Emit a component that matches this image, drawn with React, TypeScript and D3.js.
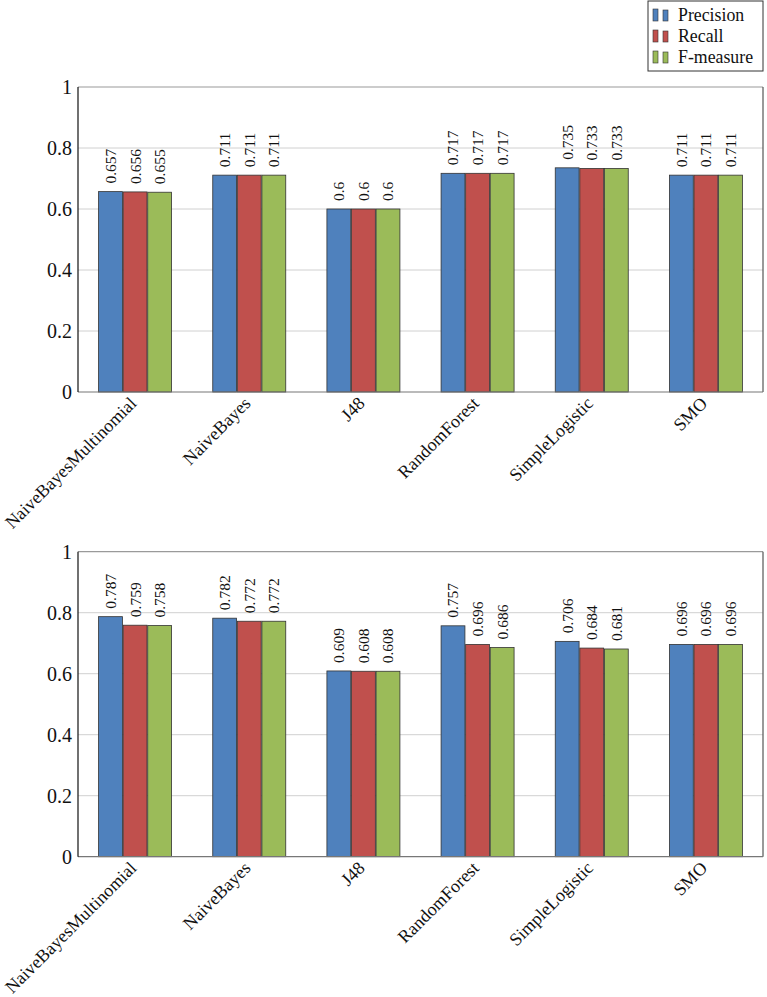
import React from "react";
import * as d3 from "d3";

const categories = ["NaiveBayesMultinomial", "NaiveBayes", "J48", "RandomForest", "SimpleLogistic", "SMO"];
const seriesNames = ["Precision", "Recall", "F-measure"];
const seriesColors = ["#4f81bd", "#c0504d", "#9bbb59"];
const topPrecision = [0.657, 0.711, 0.6, 0.717, 0.735, 0.711];
const topRecall = [0.656, 0.711, 0.6, 0.717, 0.733, 0.711];
const topFmeasure = [0.655, 0.711, 0.6, 0.717, 0.733, 0.711];
const botPrecision = [0.787, 0.782, 0.609, 0.757, 0.706, 0.696];
const botRecall = [0.759, 0.772, 0.608, 0.696, 0.684, 0.696];
const botFmeasure = [0.758, 0.772, 0.608, 0.686, 0.681, 0.696];
const yTicks = [0, 0.2, 0.4, 0.6, 0.8, 1];

const FONT = "'Liberation Serif', 'DejaVu Serif', serif";
const W = 767;
const H = 997;
const left = 78;
const right = 763;

function Panel({ top, series }: { top: number; series: number[][] }) {
  const bottom = top + 305;
  const y = d3.scaleLinear().domain([0, 1]).range([bottom, top]);
  const x = d3.scalePoint<string>().domain(categories).range([left, right]).padding(0.5);
  const inner = d3.scaleBand<number>().domain([0, 1, 2]).range([-36.5, 36.5]).paddingInner(0.03);
  const bw = inner.bandwidth();
  return (
    <g>
      {yTicks.slice(1, 5).map((t) => (
        <line key={"g" + t} x1={left} x2={right} y1={y(t)} y2={y(t)} stroke="#d0d0d0" strokeWidth={1} />
      ))}
      <line x1={left} x2={right} y1={y(1)} y2={y(1)} stroke="#9a9a9a" strokeWidth={1.2} />
      <line x1={right} x2={right} y1={y(1)} y2={y(0)} stroke="#555" strokeWidth={1.2} />
      {categories.map((c, i) => (
        <g key={c}>
          {series.map((s, k) => {
            const bx = (x(c) as number) + (inner(k) as number);
            const v = s[i];
            return (
              <g key={k}>
                <rect x={bx} y={y(v)} width={bw} height={y(0) - y(v)} fill={seriesColors[k]} stroke="#333" strokeWidth={0.8} />
                <text
                  transform={`translate(${bx + bw / 2},${y(v) - 8}) rotate(-90)`}
                  textAnchor="start"
                  dy="0.35em"
                  fontFamily={FONT}
                  fontSize={15.5}
                  fill="#111"
                >
                  {String(v)}
                </text>
              </g>
            );
          })}
          <text
            transform={`translate(${(x(c) as number) - 2},${bottom + 8}) rotate(-45)`}
            textAnchor="end"
            dy="0.35em"
            fontFamily={FONT}
            fontSize={18}
            fill="#111"
          >
            {c}
          </text>
        </g>
      ))}
      <line x1={left} x2={right} y1={y(0)} y2={y(0)} stroke="#777" strokeWidth={1.2} />
      <line x1={left} x2={left} y1={y(1)} y2={y(0)} stroke="#111" strokeWidth={1.2} />
      {yTicks.map((t) => (
        <text key={"t" + t} x={left - 6} y={y(t)} dy="0.35em" textAnchor="end" fontFamily={FONT} fontSize={20} fill="#111">
          {String(t)}
        </text>
      ))}
    </g>
  );
}

function Legend() {
  const lx = 648;
  const ly = 1;
  const rows = [15, 36, 57];
  return (
    <g>
      <rect x={lx} y={ly} width={115} height={70} fill="#fff" stroke="#333" strokeWidth={1} />
      {seriesNames.map((n, k) => (
        <g key={n}>
          <rect x={lx + 5} y={rows[k] - 6} width={5} height={12} fill={seriesColors[k]} stroke="#333" strokeWidth={0.6} />
          <rect x={lx + 15} y={rows[k] - 5} width={5} height={11} fill={seriesColors[k]} stroke="#333" strokeWidth={0.6} />
          <text x={lx + 30} y={rows[k]} dy="0.35em" fontFamily={FONT} fontSize={17.8} fill="#111">
            {n}
          </text>
        </g>
      ))}
    </g>
  );
}

export default function App() {
  return (
    <div style={{ position: "absolute", left: 0, top: 0 }}>
      <svg width={W} height={H} style={{ display: "block", background: "#fff" }}>
        <Panel top={87} series={[topPrecision, topRecall, topFmeasure]} />
        <Panel top={551.7} series={[botPrecision, botRecall, botFmeasure]} />
        <Legend />
      </svg>
    </div>
  );
}
